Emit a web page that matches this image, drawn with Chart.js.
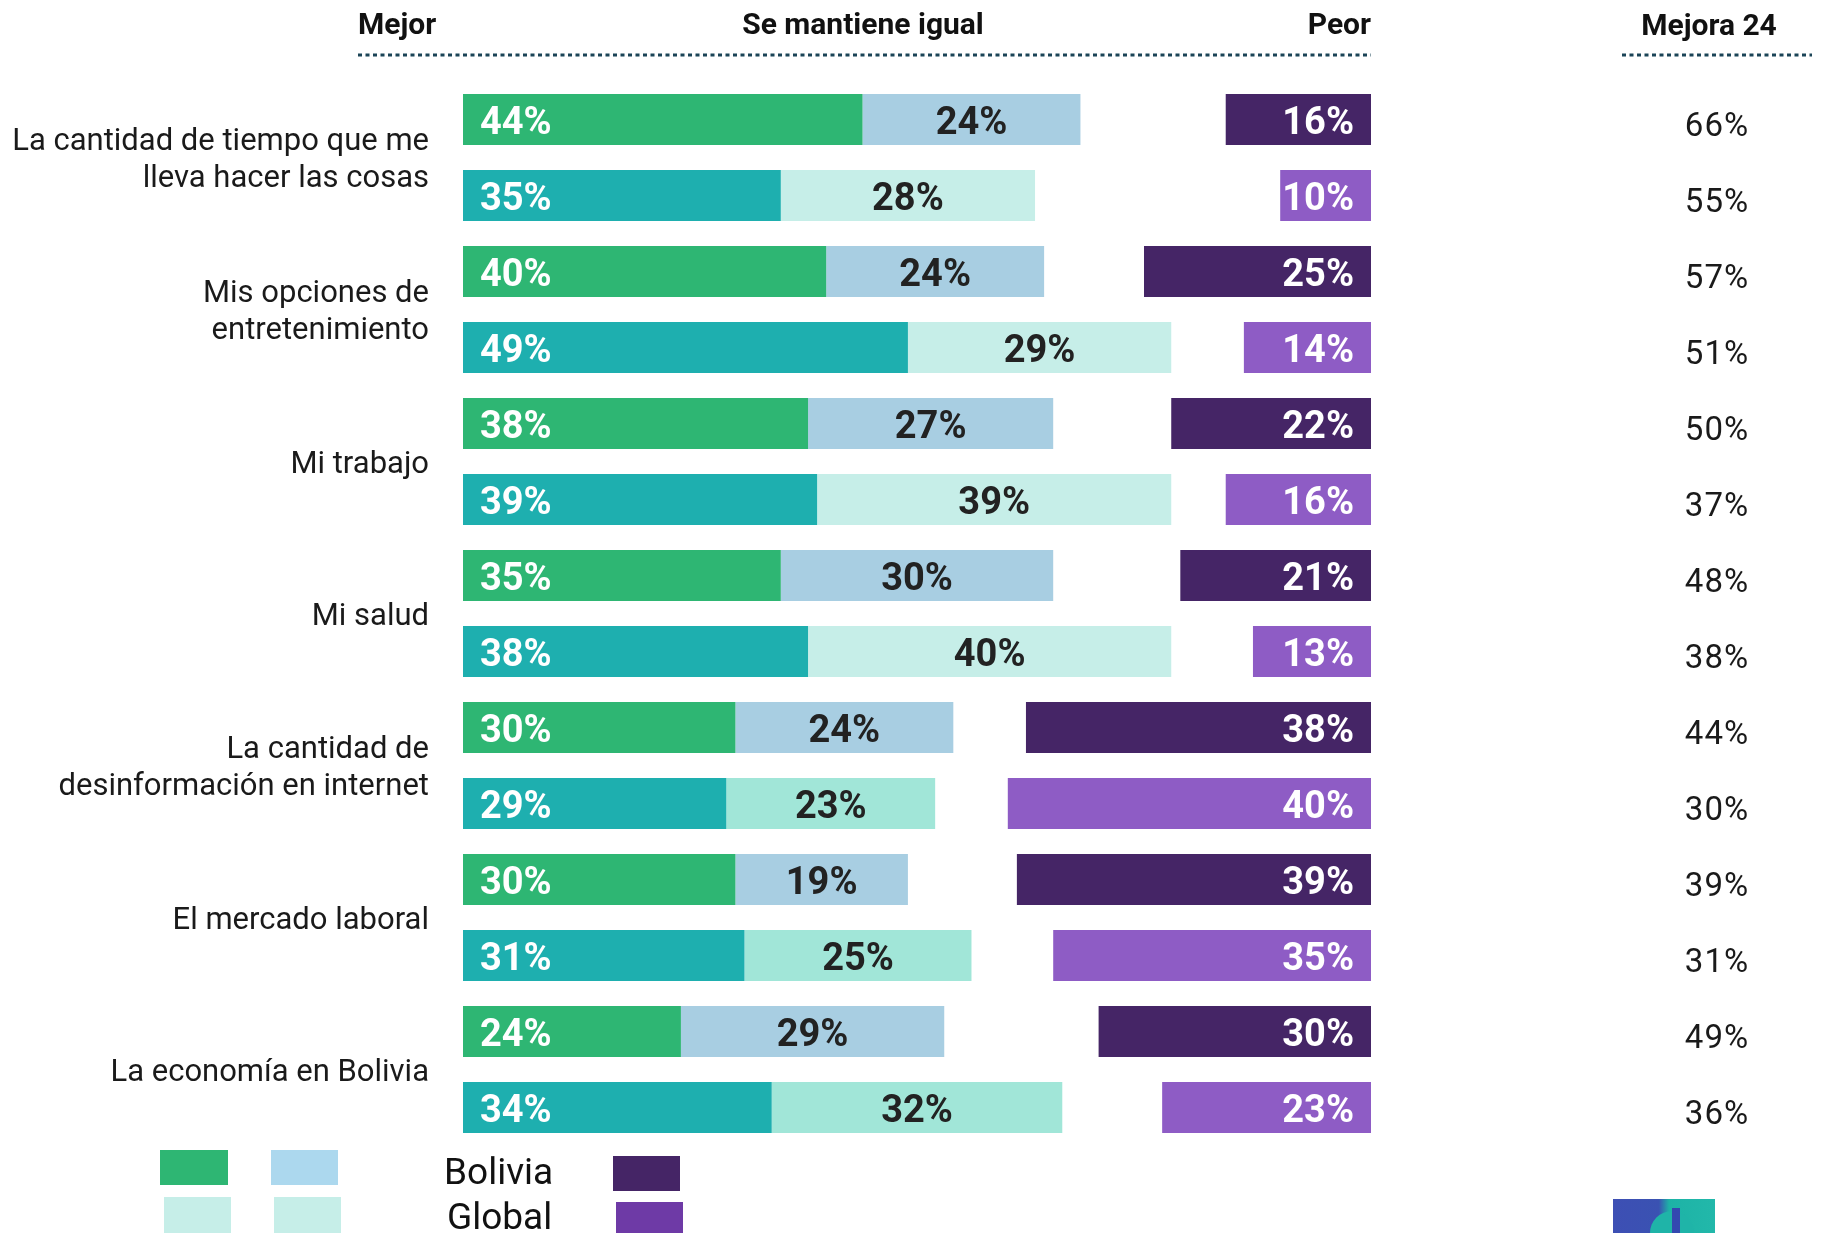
<!DOCTYPE html>
<html lang="es">
<head>
    <meta charset="UTF-8">
    <title>Mejor / Se mantiene igual / Peor</title>
    <style>
        body { margin: 0; background: #ffffff; }
        canvas { display: block; }
    </style>
</head>
<body>
    <canvas id="chart" width="1821" height="1233"></canvas>
    <script src="https://cdn.jsdelivr.net/npm/chart.js"></script>
    <script>
        // categorías (una por par de filas: Bolivia arriba, Global abajo)
        const categories = [
            ['La cantidad de tiempo que me', 'lleva hacer las cosas'],
            ['Mis opciones de', 'entretenimiento'],
            ['Mi trabajo'],
            ['Mi salud'],
            ['La cantidad de', 'desinformación en internet'],
            ['El mercado laboral'],
            ['La economía en Bolivia']
        ];
        const groups = ['Bolivia', 'Global'];

        const mejorBolivia = [44, 40, 38, 35, 30, 30, 24];
        const igualBolivia = [24, 24, 27, 30, 24, 19, 29];
        const peorBolivia  = [16, 25, 22, 21, 38, 39, 30];

        const mejorGlobal = [35, 49, 39, 38, 29, 31, 34];
        const igualGlobal = [28, 29, 39, 40, 23, 25, 32];
        const peorGlobal  = [10, 14, 16, 13, 40, 35, 23];

        const mejora24Bolivia = [66, 57, 50, 48, 44, 39, 49];
        const mejora24Global  = [55, 51, 37, 38, 30, 31, 36];

        const headers = ['Mejor', 'Se mantiene igual', 'Peor', 'Mejora 24'];

        // colores
        const green = '#2eb673';
        const lightBlue = '#a8cee2';
        const teal = '#1eafaf';
        const paleMint = '#c6eee8';
        const mint = '#a1e6d8';
        const darkPurple = '#452566';
        const purple = '#8e5cc5';

        // filas intercaladas Bolivia / Global
        const interleave = (a, b) => a.flatMap((v, i) => [v, b[i]]);
        const rowLabels = categories.flatMap((c, i) => groups.map(g => i + ' ' + g));
        const rowMejor = interleave(mejorBolivia, mejorGlobal);
        const rowIgual = interleave(igualBolivia, igualGlobal);
        const rowPeor = interleave(peorBolivia, peorGlobal);
        const rowMejora = interleave(mejora24Bolivia, mejora24Global);
        const isGlobal = rowLabels.map((r, i) => i % 2 === 1);

        const mejorColors = isGlobal.map(g => g ? teal : green);
        const igualColors = isGlobal.map((g, i) => g ? (i >= 8 ? mint : paleMint) : lightBlue);
        const peorColors = isGlobal.map(g => g ? purple : darkPurple);

        const barOpts = {
            grouped: false,
            categoryPercentage: 1,
            barPercentage: 0.67,
            borderWidth: 0,
            borderSkipped: false
        };

        // etiquetas de valor dentro de las barras
        const valueLabels = {
            id: 'valueLabels',
            afterDatasetsDraw(chart) {
                const ctx = chart.ctx;
                ctx.save();
                ctx.font = 'bold 38px Roboto';
                ctx.textBaseline = 'alphabetic';
                const sets = [rowMejor, rowIgual, rowPeor];
                chart.data.datasets.forEach((ds, d) => {
                    chart.getDatasetMeta(d).data.forEach((bar, i) => {
                        const left = Math.min(bar.x, bar.base);
                        const right = Math.max(bar.x, bar.base);
                        const txt = sets[d][i] + '%';
                        const y = bar.y + 14;
                        if (d === 0) {
                            ctx.fillStyle = '#ffffff';
                            ctx.textAlign = 'left';
                            ctx.fillText(txt, left + 17, y);
                        } else if (d === 1) {
                            ctx.fillStyle = '#222222';
                            ctx.textAlign = 'center';
                            ctx.fillText(txt, (left + right) / 2, y);
                        } else {
                            ctx.fillStyle = '#ffffff';
                            ctx.textAlign = 'right';
                            ctx.fillText(txt, right - 17, y);
                        }
                    });
                });
                ctx.restore();
            }
        };

        // encabezados, categorías, columna derecha y leyenda
        const decorations = {
            id: 'decorations',
            afterDraw(chart) {
                const ctx = chart.ctx;
                const area = chart.chartArea;
                const yScale = chart.scales.y;
                ctx.save();

                // encabezados
                ctx.fillStyle = '#111111';
                ctx.font = 'bold 30px Roboto';
                ctx.textBaseline = 'alphabetic';
                ctx.textAlign = 'left';
                ctx.fillText(headers[0], 358, 34);
                ctx.textAlign = 'center';
                ctx.fillText(headers[1], 863, 34);
                ctx.textAlign = 'right';
                ctx.fillText(headers[2], area.right, 34);
                ctx.textAlign = 'center';
                ctx.fillText(headers[3], 1709, 35);

                ctx.strokeStyle = '#1b4457';
                ctx.lineWidth = 3;
                ctx.setLineDash([4, 3.5]);
                ctx.beginPath();
                ctx.moveTo(358, 55);
                ctx.lineTo(area.right, 55);
                ctx.moveTo(1622, 55);
                ctx.lineTo(1812, 55);
                ctx.stroke();
                ctx.setLineDash([]);

                // categorías a la izquierda
                ctx.fillStyle = '#1a1a1a';
                ctx.font = '31px Roboto';
                ctx.textAlign = 'right';
                categories.forEach((lines, c) => {
                    const mid = (yScale.getPixelForValue(2 * c) + yScale.getPixelForValue(2 * c + 1)) / 2;
                    if (lines.length === 1) {
                        ctx.fillText(lines[0], 429, mid + 11);
                    } else {
                        ctx.fillText(lines[0], 429, mid - 8);
                        ctx.fillText(lines[1], 429, mid + 29);
                    }
                });

                // columna Mejora 24
                ctx.font = '33px Roboto';
                ctx.textAlign = 'center';
                ctx.letterSpacing = '1px';
                rowMejora.forEach((v, i) => {
                    ctx.fillText(v + '%', 1717, yScale.getPixelForValue(i) + 16);
                });
                ctx.letterSpacing = '0px';

                // leyenda
                ctx.fillStyle = green;      ctx.fillRect(160, 1150, 68, 35);
                ctx.fillStyle = '#acd8ee';  ctx.fillRect(271, 1150, 67, 35);
                ctx.fillStyle = paleMint;   ctx.fillRect(164, 1197, 67, 36);
                ctx.fillStyle = paleMint;   ctx.fillRect(274, 1197, 67, 36);
                ctx.fillStyle = darkPurple; ctx.fillRect(613, 1156, 67, 35);
                ctx.fillStyle = '#6e3aa6';  ctx.fillRect(616, 1202, 67, 31);
                ctx.fillStyle = '#111111';
                ctx.font = '37px Roboto';
                ctx.textAlign = 'left';
                ctx.fillText(groups[0], 444, 1184);
                ctx.fillText(groups[1], 447, 1229);

                // logotipo recortado abajo a la derecha
                const grad = ctx.createLinearGradient(1613, 0, 1715, 0);
                grad.addColorStop(0, '#3d4fb4');
                grad.addColorStop(0.45, '#3a52b2');
                grad.addColorStop(0.55, '#1db3a6');
                grad.addColorStop(1, '#22b8aa');
                ctx.fillStyle = grad;
                ctx.fillRect(1613, 1199, 102, 34);
                ctx.fillStyle = '#1fb4a8';
                ctx.beginPath();
                ctx.arc(1672, 1233, 22, Math.PI, 2 * Math.PI);
                ctx.fill();
                ctx.fillStyle = '#3448b0';
                ctx.fillRect(1672, 1208, 8, 25);

                ctx.restore();
            }
        };

        const ctx = document.getElementById('chart').getContext('2d');
        const chart = new Chart(ctx, {
            type: 'bar',
            data: {
                labels: rowLabels,
                datasets: [
                    Object.assign({
                        label: headers[0],
                        data: rowMejor.map(v => [0, v]),
                        backgroundColor: mejorColors
                    }, barOpts),
                    Object.assign({
                        label: headers[1],
                        data: rowMejor.map((m, i) => [m, m + rowIgual[i]]),
                        backgroundColor: igualColors
                    }, barOpts),
                    Object.assign({
                        label: headers[2],
                        data: rowPeor.map(v => [100 - v, 100]),
                        backgroundColor: peorColors
                    }, barOpts)
                ]
            },
            options: {
                indexAxis: 'y',
                responsive: false,
                animation: false,
                devicePixelRatio: 1,
                layout: {
                    padding: { left: 463, right: 450, top: 81.5, bottom: 87.5 }
                },
                scales: {
                    x: { type: 'linear', min: 0, max: 100, display: false },
                    y: { display: false }
                },
                plugins: {
                    legend: { display: false },
                    tooltip: { enabled: false }
                }
            },
            plugins: [valueLabels, decorations]
        });
    </script>
</body>
</html>
